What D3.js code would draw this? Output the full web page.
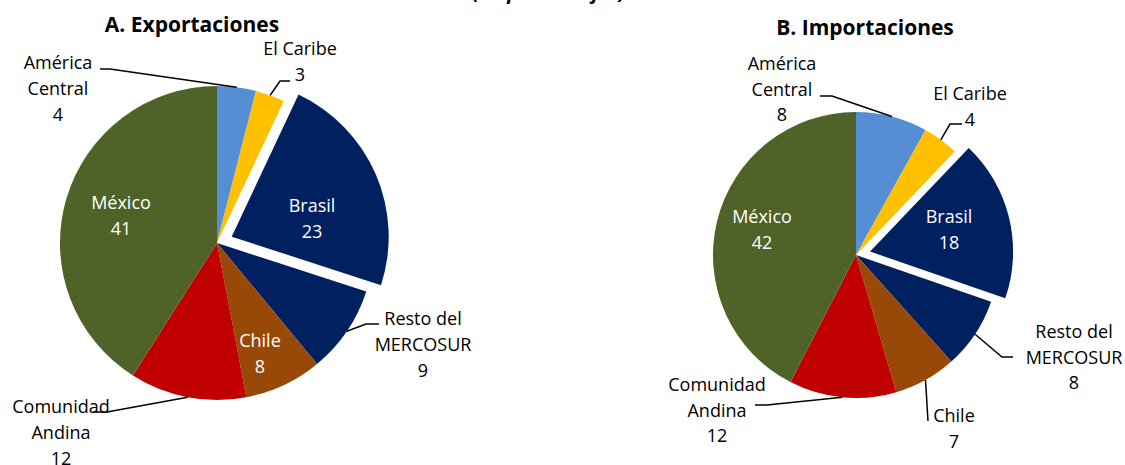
<!DOCTYPE html>
<html>
<head>
<meta charset="utf-8">
<title>Exportaciones e importaciones</title>
<script src="https://d3js.org/d3.v7.min.js"></script>
<style type="text/css">
	body{
		margin:0;
		background:white;
	}
	text{
		font-family: "Open Sans", sans-serif;
	}
	.title{
		font-weight:bold;
		font-size:21px;
	}
	.label{
		font-size:18px;
		fill:black;
	}
	.label.inside{
		fill:white;
	}
	.leader{
		fill:none;
		stroke:black;
		stroke-width:1.5px;
	}
</style>
</head>
<body>
<svg id="chart" width="1125" height="465"></svg>
<script>
// data
var regions = ["América Central","El Caribe","Brasil","Resto del MERCOSUR","Chile","Comunidad Andina","México"];
var exportValues = [4,3,23,9,8,12,41];
var importValues = [8,4,18,8,7,12,42];
var sliceColors = ["#558ED5","#FFC000","#002060","#002060","#984807","#C00000","#4F6228"];
var labelNames = {
	"América Central":["América","Central"],
	"El Caribe":["El Caribe"],
	"Brasil":["Brasil"],
	"Resto del MERCOSUR":["Resto del","MERCOSUR"],
	"Chile":["Chile"],
	"Comunidad Andina":["Comunidad","Andina"],
	"México":["México"]
};

// layout of the two pies and their labels
var panels = [
	{title:"A. Exportaciones", values:exportValues, cx:217, cy:243, r:157, explode:16, tx:192, ty:32, lh:26,
	 labels:{
		"América Central":{x:58, y:69, elbow:[110,69], end:[100,69]},
		"El Caribe":{x:300, y:55, elbow:[280,81], end:[290,81]},
		"Brasil":{x:312, y:212, inside:true},
		"Resto del MERCOSUR":{x:423, y:325, elbow:[366,324], end:[379,324]},
		"Chile":{x:260, y:347, inside:true},
		"Comunidad Andina":{x:61, y:413, elbow:[107,412], end:[93,412]},
		"México":{x:121, y:209, inside:true}
	 }},
	{title:"B. Importaciones", values:importValues, cx:856, cy:255, r:143, explode:14.5, tx:865, ty:35, lh:25.5,
	 labels:{
		"América Central":{x:782, y:70, elbow:[832,96], end:[820,96]},
		"El Caribe":{x:970, y:100, elbow:[950,124], end:[962,124]},
		"Brasil":{x:949, y:223, inside:true},
		"Resto del MERCOSUR":{x:1074, y:338, elbow:[1002,357], end:[1013,357]},
		"Chile":{x:954, y:422, elbow:[928,421], end:[928,421]},
		"Comunidad Andina":{x:717, y:391, elbow:[767,405], end:[755,405]},
		"México":{x:762, y:223, inside:true}
	 }}
];

var svg = d3.select("#chart");

// subtitle sits mostly above the top edge, as in the source image
svg.append("text")
	.attr("x",549).attr("y",-1)
	.attr("text-anchor","middle")
	.style("font-weight","bold").style("font-style","italic").style("font-size","20px")
	.text("(En porcentajes)");

var color = d3.scaleOrdinal().domain(regions).range(sliceColors);

panels.forEach(function(p){
	var data = regions.map(function(name,i){ return {name:name, value:p.values[i]}; });
	var pie = d3.pie().sort(null).value(function(d){ return d.value; });
	var arcs = pie(data);
	var arcGen = d3.arc().innerRadius(0).outerRadius(p.r);

	svg.append("text")
		.attr("class","title")
		.attr("x",p.tx).attr("y",p.ty)
		.attr("text-anchor","middle")
		.text(p.title);

	var g = svg.append("g").attr("transform","translate("+p.cx+","+p.cy+")");

	g.selectAll("path")
		.data(arcs)
		.enter()
		.append("path")
		.attr("fill",function(d){ return color(d.data.name); })
		.attr("transform",function(d){
			if(d.data.name !== "Brasil") return null;
			var a = (d.startAngle+d.endAngle)/2;
			return "translate("+(p.explode*Math.sin(a))+","+(-p.explode*Math.cos(a))+")";
		})
		.attr("d",arcGen);

	// leader lines
	arcs.forEach(function(d){
		var lab = p.labels[d.data.name];
		if(lab.inside) return;
		var a = (d.startAngle+d.endAngle)/2;
		var start = [p.cx + p.r*Math.sin(a), p.cy - p.r*Math.cos(a)];
		svg.append("path")
			.attr("class","leader")
			.attr("d", d3.line()([start, lab.elbow, lab.end]));
	});

	// labels
	arcs.forEach(function(d){
		var lab = p.labels[d.data.name];
		var lines = labelNames[d.data.name].concat([String(d.data.value)]);
		var t = svg.append("text")
			.attr("class", lab.inside ? "label inside" : "label")
			.attr("text-anchor","middle");
		lines.forEach(function(s,i){
			t.append("tspan")
				.attr("x",lab.x)
				.attr("y",lab.y + i*p.lh)
				.text(s);
		});
	});
});
</script>
</body>
</html>
